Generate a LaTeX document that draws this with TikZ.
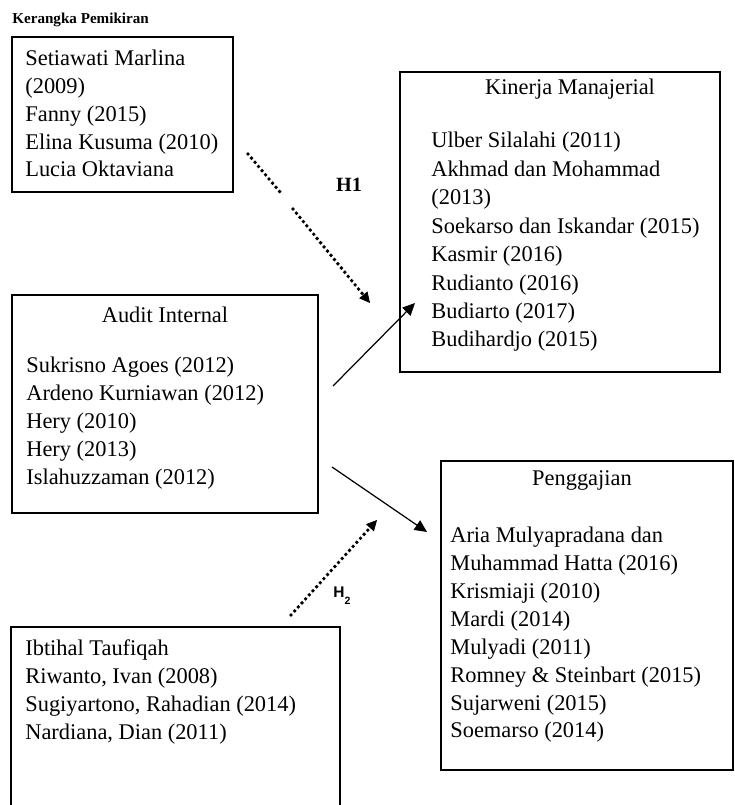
\documentclass[tikz,border=0pt]{standalone}
\usepackage{fontspec}
\setmainfont{Liberation Serif}
\newfontfamily\hfont{Liberation Sans}
\usetikzlibrary{arrows.meta}

\begin{document}
\begin{tikzpicture}[
  box/.style={draw,line width=.8pt,inner sep=0pt},
  lst/.style={anchor=base west,align=left,inner sep=0pt,font=\fontsize{12.75}{#1}\selectfont},
  lst/.default=16pt,
  ttl/.style={anchor=base,inner sep=0pt,font=\fontsize{12.75}{15}\selectfont},
  solidarr/.style={line width=.7pt,-{Triangle[length=7pt,width=6.5pt]}},
  dotarr/.style={line width=2.2pt,line cap=round,dash pattern=on 0pt off 3.1pt,-{Triangle[length=6pt,width=6pt,line width=.4pt]}}
]
\useasboundingbox (0,0) rectangle (14.68,16.1);

\draw (0.24,15.62) node(TITLE)[anchor=base west,inner sep=0pt,font=\fontsize{8.6}{10}\selectfont\bfseries]{Kerangka Pemikiran};

% left top (text nodes sit on the baseline of their last line)
\draw (2.45,13.81) node(LIT1)[box,minimum width=4.42cm,minimum height=3.10cm]{};
\draw (0.5,12.56) node(LIT1TXT)[lst=15.8pt]{Setiawati Marlina\\(2009)\\Fanny (2015)\\Elina Kusuma (2010)\\Lucia Oktaviana};

% kinerja
\draw (11.2,11.66) node(KM)[box,minimum width=6.4cm,minimum height=6.0cm]{};
\draw (11.4,14.2) node(KMTTL)[ttl]{Kinerja Manajerial};
\draw (8.62,9.16) node(KMTXT)[lst=16.2pt]{Ulber Silalahi (2011)\\Akhmad dan Mohammad\\(2013)\\Soekarso dan Iskandar (2015)\\Kasmir (2016)\\Rudianto (2016)\\Budiarto (2017)\\Budihardjo (2015)};

% audit
\draw (3.3,8.02) node(AI)[box,minimum width=6.12cm,minimum height=4.36cm]{};
\draw (3.3,9.64) node(AITTL)[ttl]{Audit Internal};
\draw (0.52,6.4) node(AITXT)[lst]{Sukrisno Agoes (2012)\\Ardeno Kurniawan (2012)\\Hery (2010)\\Hery (2013)\\Islahuzzaman (2012)};

% penggajian
\draw (11.74,3.79) node(PG)[box,minimum width=5.84cm,minimum height=6.18cm]{};
\draw (11.64,6.38) node(PGTTL)[ttl]{Penggajian};
\draw (9.0,1.34) node(PGTXT)[lst=15.9pt]{Aria Mulyapradana dan\\Muhammad Hatta (2016)\\Krismiaji (2010)\\Mardi (2014)\\Mulyadi (2011)\\Romney \& Steinbart (2015)\\Sujarweni (2015)\\Soemarso (2014)};

% left bottom
\draw (3.51,1.53) node(LIT2)[box,minimum width=6.58cm,minimum height=4.06cm]{};
\draw (0.5,1.3) node(LIT2TXT)[lst=16.1pt]{Ibtihal Taufiqah\\Riwanto, Ivan (2008)\\Sugiyartono, Rahadian (2014)\\Nardiana, Dian (2011)};

\draw (6.98,12.26) node(HA)[anchor=base,inner sep=0pt,font=\fontsize{11.5}{13}\selectfont\bfseries]{H1};
\draw (6.66,4.14) node(HB)[anchor=base west,inner sep=0pt,font=\hfont\bfseries\fontsize{8.8}{10}\selectfont]{H\raisebox{-3.5pt}{\fontsize{6}{7}\selectfont 2}};

\coordinate (H1A) at (4.96,13.02);
\coordinate (H1B) at (5.6,12.26);
\coordinate (H1C) at (5.86,11.92);
\coordinate (H1D) at (7.4,10.04);
\coordinate (H2A) at (5.82,3.8);
\coordinate (H2B) at (7.54,5.7);
\coordinate (A1A) at (6.66,8.38);
\coordinate (A1B) at (8.3,10.04);
\coordinate (A2A) at (6.64,6.76);
\coordinate (A2B) at (8.54,5.46);

\draw[dotarr] (H1A) -- (H1B) (H1C) -- (H1D);
\draw[dotarr] (H2A) -- (H2B);
\draw[solidarr] (A1A) -- (A1B);
\draw[solidarr] (A2A) -- (A2B);

\end{tikzpicture}
\end{document}
